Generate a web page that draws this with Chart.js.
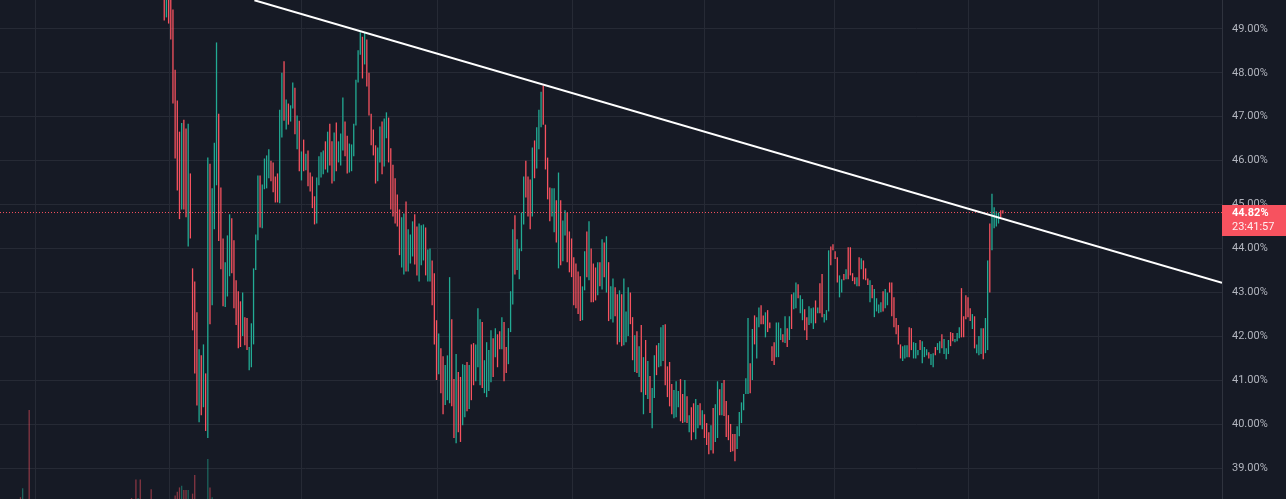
<!DOCTYPE html>
<html>
<head>
<meta charset="utf-8">
<script src="https://cdn.jsdelivr.net/npm/chart.js@4.4.1/dist/chart.umd.min.js"></script>
<style>
  html, body { margin: 0; padding: 0; background: #161a25; overflow: hidden; }
  .wrap { width: 1286px; height: 499px; position: relative; }
</style>
</head>
<body>
<div class="wrap"><canvas id="chart"></canvas></div>
<script>
// candle lows / highs in %, one per bar (oldest first)
const lows = [
  49.19, 49.26, 49.12, 48.76, 47.30, 46.05, 45.32, 44.67, 44.89, 44.89,
  44.71, 44.05, 44.23, 42.14, 41.16, 40.43, 40.05, 40.21, 40.39, 39.85,
  39.69, 42.28, 42.71, 44.44, 45.44, 44.17, 43.53, 42.69, 42.67, 42.91,
  43.37, 43.44, 42.64, 42.26, 41.73, 41.76, 42.01, 41.80, 41.69, 41.23,
  41.30, 41.82, 43.51, 44.19, 44.48, 44.46, 45.35, 45.37, 45.60, 45.53,
  45.28, 45.05, 45.05, 45.03, 46.53, 46.91, 46.71, 46.82, 46.89, 47.19,
  46.60, 46.26, 45.76, 45.55, 45.76, 45.78, 45.42, 45.30, 44.92, 44.55,
  44.57, 45.44, 45.62, 45.69, 45.80, 45.73, 45.89, 45.48, 45.53, 45.76,
  45.96, 45.89, 46.23, 46.10, 45.71, 45.73, 45.76, 46.10, 46.80, 47.78,
  48.41, 47.87, 48.19, 47.69, 47.03, 46.35, 46.12, 45.48, 45.53, 45.96,
  45.69, 45.87, 46.51, 45.96, 44.89, 44.73, 44.57, 44.50, 43.85, 43.57,
  43.41, 43.48, 43.48, 43.66, 43.82, 43.64, 43.39, 43.25, 43.62, 43.73,
  43.39, 43.25, 43.25, 42.71, 41.82, 41.01, 41.14, 40.71, 40.23, 40.44,
  40.55, 40.48, 40.41, 39.69, 39.57, 39.82, 39.60, 39.98, 40.16, 40.30,
  40.35, 40.55, 40.89, 40.98, 41.30, 40.89, 40.83, 40.71, 40.62, 40.76,
  40.96, 41.08, 41.53, 41.30, 41.71, 41.71, 40.98, 41.17, 41.37, 42.10,
  42.73, 43.41, 43.51, 43.30, 43.94, 44.55, 45.16, 44.73, 44.44, 44.73,
  45.60, 45.82, 46.26, 46.76, 46.82, 45.80, 45.12, 44.62, 44.73, 44.37,
  44.14, 43.55, 43.62, 43.71, 44.30, 43.69, 43.46, 43.35, 42.71, 42.64,
  42.51, 42.35, 42.37, 43.05, 43.35, 43.28, 42.78, 42.78, 42.82, 42.94,
  43.14, 43.07, 43.35, 43.00, 42.35, 42.39, 42.32, 42.46, 41.82, 41.87,
  41.78, 41.80, 41.87, 42.01, 42.28, 41.46, 41.19, 41.17, 41.08, 40.73,
  40.23, 40.67, 40.58, 40.26, 39.91, 40.60, 41.12, 41.30, 41.32, 41.44,
  40.89, 40.62, 40.41, 40.23, 40.14, 40.16, 40.39, 40.07, 40.03, 40.05,
  40.03, 39.82, 39.64, 39.82, 39.66, 39.91, 39.98, 39.89, 39.69, 39.53,
  39.32, 39.41, 39.34, 39.60, 39.69, 40.21, 40.21, 40.19, 39.71, 39.64,
  39.37, 39.39, 39.16, 39.44, 39.73, 40.03, 40.32, 40.69, 40.69, 40.71,
  41.01, 41.82, 41.50, 42.21, 42.28, 42.28, 41.98, 42.10, 42.19, 41.44,
  41.35, 41.53, 41.53, 41.92, 41.87, 41.85, 41.76, 41.92, 42.17, 42.62,
  42.64, 42.87, 42.53, 42.37, 42.14, 41.92, 42.26, 42.30, 42.17, 42.30,
  42.53, 42.53, 42.44, 42.32, 42.37, 42.57, 43.62, 43.96, 43.76, 43.23,
  42.89, 43.00, 43.28, 43.30, 43.30, 43.39, 43.26, 43.19, 43.14, 43.14,
  43.53, 43.30, 43.28, 43.17, 42.78, 42.87, 42.44, 42.57, 42.53, 42.55,
  42.57, 42.64, 42.71, 43.00, 42.46, 42.21, 42.05, 41.82, 41.50, 41.44,
  41.50, 41.53, 41.53, 41.69, 41.50, 41.50, 41.57, 41.69, 41.39, 41.53,
  41.57, 41.50, 41.35, 41.30, 41.57, 41.69, 41.62, 41.73, 41.60, 41.48,
  41.60, 41.78, 41.89, 41.87, 41.89, 41.96, 41.98, 41.98, 42.39, 42.44,
  42.35, 42.17, 41.73, 41.62, 41.57, 41.60, 41.48, 41.62, 41.69, 43.00,
  43.96, 44.46, 44.50, 44.57, 44.71, 44.80
];
const highs = [
  50.10, 50.00, 50.00, 49.90, 49.44, 48.07, 47.37, 46.66, 46.86, 46.93,
  46.73, 46.84, 45.71, 43.55, 43.25, 42.55, 41.71, 41.57, 41.82, 41.16,
  46.07, 45.93, 45.37, 46.41, 48.69, 47.07, 45.39, 44.23, 43.69, 44.30,
  44.78, 44.69, 44.19, 43.28, 43.03, 42.80, 43.00, 42.44, 42.42, 41.76,
  42.30, 43.55, 44.32, 45.66, 45.66, 45.46, 46.05, 46.12, 46.26, 46.00,
  45.96, 45.64, 45.71, 47.16, 48.00, 48.26, 47.39, 47.30, 47.26, 47.78,
  47.66, 47.03, 46.91, 46.21, 46.48, 46.16, 46.23, 45.73, 45.64, 45.19,
  45.62, 46.10, 46.19, 46.23, 46.44, 46.66, 46.84, 46.44, 46.64, 46.87,
  46.44, 46.62, 47.44, 46.89, 46.57, 46.39, 46.37, 46.84, 47.84, 48.51,
  48.92, 48.82, 48.92, 48.76, 48.00, 47.07, 46.71, 46.35, 46.30, 46.78,
  46.89, 46.96, 47.10, 46.98, 46.28, 45.91, 45.60, 45.23, 44.89, 44.71,
  44.80, 45.07, 44.44, 44.32, 44.62, 44.78, 44.50, 44.57, 44.53, 44.55,
  44.48, 43.98, 44.00, 43.73, 43.44, 42.37, 42.07, 41.73, 41.55, 41.35,
  41.57, 43.35, 42.39, 41.03, 41.60, 41.19, 41.08, 41.37, 41.35, 41.42,
  41.35, 41.82, 41.85, 41.82, 42.64, 42.39, 42.33, 41.46, 41.87, 41.69,
  42.14, 41.96, 42.19, 42.05, 42.12, 42.44, 42.33, 41.76, 42.19, 43.03,
  44.44, 44.76, 44.21, 44.00, 44.82, 45.64, 46.00, 45.64, 45.57, 46.30,
  46.46, 46.76, 47.16, 47.57, 47.71, 46.82, 46.07, 45.39, 45.37, 45.37,
  45.10, 45.73, 45.10, 44.64, 44.87, 44.82, 44.39, 44.23, 43.80, 43.66,
  43.48, 43.37, 43.14, 43.94, 44.39, 44.62, 44.00, 43.66, 43.57, 43.69,
  43.69, 44.21, 44.14, 44.28, 43.69, 43.14, 43.32, 43.12, 42.96, 43.05,
  42.96, 43.32, 42.57, 43.12, 43.00, 42.44, 42.03, 42.12, 41.78, 42.26,
  41.53, 41.92, 41.44, 41.10, 40.83, 41.57, 41.80, 41.85, 42.21, 42.26,
  42.28, 41.32, 41.42, 40.92, 40.78, 40.98, 40.76, 41.03, 40.69, 41.01,
  40.64, 40.21, 40.39, 40.48, 40.58, 40.44, 40.48, 40.32, 40.23, 40.03,
  39.82, 39.98, 40.37, 40.46, 40.98, 40.80, 40.94, 41.01, 40.53, 40.21,
  40.01, 39.78, 39.78, 39.96, 40.28, 40.50, 40.69, 41.05, 42.42, 41.39,
  42.17, 42.48, 42.44, 42.66, 42.71, 42.48, 42.55, 42.60, 42.32, 41.78,
  41.87, 42.32, 42.32, 42.19, 42.05, 42.46, 42.19, 42.46, 42.96, 43.00,
  43.23, 43.19, 42.94, 42.85, 42.62, 42.44, 42.69, 42.64, 42.66, 42.82,
  42.66, 43.21, 43.42, 42.51, 42.60, 43.96, 44.05, 44.10, 43.94, 43.80,
  43.39, 43.30, 43.42, 43.53, 44.03, 44.03, 43.44, 43.35, 43.35, 43.80,
  43.78, 43.73, 43.55, 43.32, 43.28, 43.17, 43.08, 42.87, 42.73, 42.78,
  43.03, 43.08, 43.00, 43.23, 43.23, 42.89, 42.42, 42.26, 41.82, 41.78,
  41.80, 41.80, 42.21, 42.19, 41.87, 41.85, 41.69, 41.92, 41.89, 41.76,
  41.71, 41.64, 41.60, 41.62, 41.76, 41.85, 41.89, 42.05, 41.94, 41.73,
  41.92, 42.10, 42.08, 41.94, 42.08, 42.21, 43.10, 42.46, 42.94, 42.89,
  42.64, 42.51, 42.46, 41.82, 42.01, 42.19, 42.19, 42.42, 43.73, 44.57,
  45.25, 44.94, 44.85, 44.82, 44.87, 44.87
];
// 1 = closed up (teal), 0 = closed down (red)
const ups = [
  0,1,0,0,0,0,0,0,1,0, 0,1,0,0,0,0,1,0,1,0, 1,0,1,1,1,0,0,0,1,1,
  1,0,0,0,0,0,1,0,0,1, 1,1,1,1,0,1,1,1,1,0, 0,0,0,1,1,0,1,0,1,1,
  0,1,0,1,0,1,0,0,0,0, 1,1,1,1,0,1,0,0,1,0, 1,1,1,0,0,1,1,1,1,1,
  1,0,1,0,0,0,0,0,1,1, 0,1,1,0,0,0,0,0,0,1, 1,0,1,1,1,0,0,1,1,1,
  0,1,1,0,0,0,1,0,0,1, 1,1,0,0,1,0,0,1,1,0, 1,0,0,1,1,1,0,1,1,1,
  1,0,1,0,0,1,0,0,1,1, 1,0,1,1,1,1,0,0,0,1, 0,1,1,1,0,0,0,0,1,1,
  0,1,0,1,1,0,0,0,0,0, 0,0,1,1,0,1,0,0,0,1, 0,1,0,1,0,1,1,0,0,1,
  0,1,1,1,0,0,1,0,1,0, 1,0,1,0,1,1,0,1,1,1, 0,0,0,0,1,1,1,0,0,1,
  0,1,0,0,1,1,0,1,0,0, 0,1,0,1,1,0,1,0,0,0, 0,0,0,1,1,1,1,1,1,0,
  1,0,1,1,0,0,1,0,0,0, 0,1,1,1,0,1,0,1,0,1, 1,0,1,1,0,0,1,1,1,0,
  1,0,0,1,1,1,0,0,0,0, 1,1,0,1,0,0,0,0,1,0, 1,0,0,0,1,0,1,1,1,1,
  0,1,1,0,0,0,0,0,0,1, 1,1,0,0,1,1,1,0,1,1, 1,0,1,1,0,1,1,0,1,1,
  1,0,0,1,1,1,0,0,0,0, 0,1,0,1,1,1,0,1,1,0, 1,1,1,1,0
];
// volume bars visible along the bottom edge (bar index, volume, up/down)
const volIndex = [-66, -65, -62, -15, -13, -12, -11, -6, 5, 6, 7, 8, 9, 10, 11, 13, 14, 20, 21, 22];
const volume   = [2, 12, 100, 1, 22, 1, 22, 11, 4, 8, 13, 15, 10, 10, 10, 6, 27, 45, 13, 2];
const volUp    = [0, 1, 0, 0, 0, 1, 0, 0, 0, 0, 0, 1, 0, 0, 1, 0, 0, 1, 0, 1];

const lastClose = 44.82;
const countdown = '23:41:57';
// drawn trendline, two anchor points (bar index, %)
const trendStart = { x: 41.4, y: 49.65 };
const trendEnd = { x: 485.6, y: 43.22 };
// bar indices where the time grid lines fall
const timeGrid = [-59.1, 2.2, 63.2, 125.6, 187.2, 248.2, 307.9, 369.0, 429.1];

const xMin = -75.4, xMax = 485.6;
const yMin = 38.302, yMax = 49.656;
const upColor = '#22ab94';
const downColor = '#f7525f';
const gridColor = '#262a35';
const font = 'Roboto, "Trebuchet MS", sans-serif';

const candleData = lows.map((lo, i) => ({ x: i, y: [lo, highs[i]] }));
const candleColors = ups.map(u => (u ? upColor : downColor));
const volData = volIndex.map((x, i) => ({ x: x, y: volume[i] }));
const volColors = volUp.map(u => (u ? 'rgba(34,171,148,0.5)' : 'rgba(247,82,95,0.5)'));

const priceLabel = {
  id: 'priceLabel',
  afterDraw(chart) {
    const { ctx, chartArea, scales } = chart;
    const y = scales.y.getPixelForValue(lastClose);
    const left = chartArea.right;
    ctx.save();
    ctx.fillStyle = downColor;
    ctx.fillRect(left, Math.round(y) - 8, chart.width - left, 31);
    ctx.textBaseline = 'middle';
    ctx.fillStyle = '#ffffff';
    ctx.font = 'bold 11px ' + font;
    ctx.fillText(lastClose.toFixed(2) + '%', left + 10, y + 0.5);
    ctx.fillStyle = 'rgba(255,255,255,0.9)';
    ctx.font = '11px ' + font;
    ctx.fillText(countdown, left + 10, y + 14.5);
    ctx.restore();
  }
};

new Chart(document.getElementById('chart'), {
  type: 'bar',
  data: {
    datasets: [
      {
        type: 'line',
        data: [trendStart, trendEnd],
        borderColor: '#ffffff',
        borderWidth: 2,
        pointRadius: 0,
        clip: 0
      },
      {
        type: 'line',
        data: [{ x: xMin, y: lastClose }, { x: xMax, y: lastClose }],
        borderColor: downColor,
        borderWidth: 1,
        borderDash: [1, 2],
        pointRadius: 0
      },
      {
        data: candleData,
        backgroundColor: candleColors,
        barThickness: 1.3,
        inflateAmount: 0,
        grouped: false,
        clip: 0
      },
      {
        data: volData,
        backgroundColor: volColors,
        barThickness: 1.3,
        inflateAmount: 0,
        grouped: false,
        yAxisID: 'yVol'
      }
    ]
  },
  options: {
    responsive: true,
    maintainAspectRatio: false,
    animation: false,
    layout: { padding: 0 },
    plugins: { legend: { display: false }, tooltip: { enabled: false } },
    scales: {
      x: {
        type: 'linear',
        min: xMin,
        max: xMax,
        offset: false,
        grid: { color: gridColor, drawTicks: false, offset: false },
        border: { display: false },
        ticks: { display: false },
        afterBuildTicks: s => { s.ticks = timeGrid.map(v => ({ value: v })); },
        afterFit: s => { s.height = 0; s.paddingLeft = 0; s.paddingRight = 0; }
      },
      y: {
        position: 'right',
        min: yMin,
        max: yMax,
        grid: { color: gridColor, drawTicks: false },
        border: { color: '#2f333e' },
        ticks: {
          stepSize: 1,
          includeBounds: false,
          maxTicksLimit: 20,
          padding: 10,
          color: '#b2b5be',
          font: { family: font, size: 11 },
          callback: v => v.toFixed(2) + '%'
        },
        afterFit: s => { s.width = 64; s.paddingTop = 0; s.paddingBottom = 0; }
      },
      yVol: { axis: 'y', display: false, min: 0, max: 560 }
    }
  },
  plugins: [priceLabel]
});
</script>
</body>
</html>
